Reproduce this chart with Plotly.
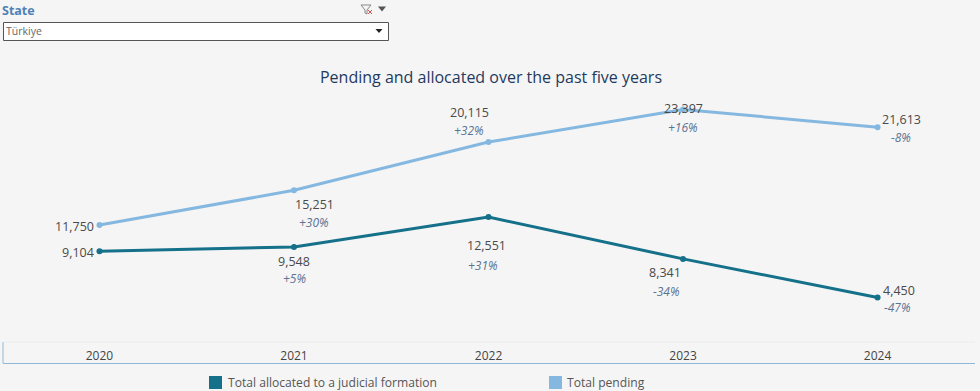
import plotly.graph_objects as go

years = [2020, 2021, 2022, 2023, 2024]
allocated = [9104, 9548, 12551, 8341, 4450]
pending = [11750, 15251, 20115, 23397, 21613]
allocated_change = ["", "+5%", "+31%", "-34%", "-47%"]
pending_change = ["", "+30%", "+32%", "+16%", "-8%"]

TEAL = "#15708a"
BLUE = "#85b8e0"
BG = "#f5f5f5"
FONT = "Open Sans"
TXT = "#4a4a4a"
PCT = "#5b7394"
AXIS = "#8fb8d8"

# label offsets from each point, in px (dx, dy up)
p_num = [(-3, -1), (20, -14), (-19, 30), (0, 1), (24, 8)]
p_pct = [None, (20, -32), (-20, 12), (0, -18), (23, -10)]
a_num = [(-3, -1), (0, -15), (-2, -28), (-18, -14), (21, 7)]
a_pct = [None, (0, -32), (-6, -48), (-17, -33), (20, -10)]

fig = go.Figure()
for name, vals, col in [("Total allocated to a judicial formation", allocated, TEAL),
                        ("Total pending", pending, BLUE)]:
    fig.add_trace(go.Scatter(x=years, y=vals, name=name, mode="lines+markers",
                             line=dict(color=col, width=3), marker=dict(color=col, size=6),
                             showlegend=False, cliponaxis=False))

for vals, changes, nums, pcts in [(pending, pending_change, p_num, p_pct),
                                  (allocated, allocated_change, a_num, a_pct)]:
    for i, yr in enumerate(years):
        dx, dy = nums[i]
        anchor = "right" if i == 0 else "center"
        fig.add_annotation(x=yr, y=vals[i], text=f"{vals[i]:,}", showarrow=False,
                           xshift=dx, yshift=dy, xanchor=anchor, yanchor="middle",
                           font=dict(family=FONT, size=12.5, color=TXT))
        if pcts[i]:
            fig.add_annotation(x=yr, y=vals[i], text=f"<i>{changes[i]}</i>", showarrow=False,
                               xshift=pcts[i][0], yshift=pcts[i][1], yanchor="middle",
                               font=dict(family=FONT, size=12, color=PCT))

W, H = 980, 391
ML, MR, MT, MB = 3, 5, 0, 28
PW, PH = W - ML - MR, H - MT - MB
def px(x): return (x - ML) / PW
def py(y): return 1 - (y - MT) / PH
def rect(x0, y0, x1, y1, **k):
    fig.add_shape(type="rect", xref="paper", yref="paper", x0=px(x0), x1=px(x1), y0=py(y0), y1=py(y1), **k)
def tri(cx, cy, w, h, col):
    pts = [(cx - w/2, cy - h/2), (cx + w/2, cy - h/2), (cx, cy + h/2)]
    path = "M " + " L ".join(f"{px(a):.5f},{py(b):.5f}" for a, b in pts) + " Z"
    fig.add_shape(type="path", xref="paper", yref="paper", path=path, fillcolor=col, line_width=0)
def label(x, y, text, size, col, anchor="left", family=FONT):
    fig.add_annotation(xref="paper", yref="paper", x=px(x), y=py(y), text=text, showarrow=False,
                       xanchor=anchor, yanchor="middle", borderpad=0,
                       font=dict(family=family, size=size, color=col))

# filter control
label(1, 11, "<b>State</b>", 12.5, "#4f81b5")
rect(3.5, 22.5, 388.5, 40.5, fillcolor="white", line=dict(color="#555555", width=1))
label(5, 31, "Türkiye", 10.5, "#666666")
tri(379, 31, 7, 4, "#222222")
tri(382, 9, 8, 5, "#555555")
funnel = [(361, 5), (371, 5), (367, 10), (367, 14), (365, 13), (365, 10)]
fig.add_shape(type="path", xref="paper", yref="paper",
              path="M " + " L ".join(f"{px(a):.5f},{py(b):.5f}" for a, b in funnel) + " Z",
              line=dict(color="#888888", width=1), fillcolor="rgba(0,0,0,0)")
for x0, x1 in [(368, 372), (372, 368)]:
    fig.add_shape(type="line", xref="paper", yref="paper", x0=px(x0), x1=px(x1), y0=py(10), y1=py(14),
                  line=dict(color="#d9534f", width=1))

# axis band
fig.add_shape(type="line", xref="paper", yref="paper", x0=px(3), x1=px(3), y0=py(342), y1=py(363),
              line=dict(color=AXIS, width=1))
fig.add_shape(type="line", xref="paper", yref="paper", x0=px(3), x1=px(975), y0=py(342), y1=py(342),
              line=dict(color="#ececec", width=1))

# legend
rect(209, 376, 222, 389, fillcolor=TEAL, line_width=0)
label(227, 382, "Total allocated to a judicial formation", 12.1, "#555555")
rect(549, 376, 562, 389, fillcolor=BLUE, line_width=0)
label(566, 382, "Total pending", 12.1, "#555555")

fig.update_layout(
    width=W, height=H, autosize=False,
    margin=dict(l=ML, r=MR, t=MT, b=MB),
    paper_bgcolor=BG, plot_bgcolor=BG,
    title=dict(text="Pending and allocated over the past five years",
               x=491 / W, xanchor="center", y=1 - 77 / H, yanchor="middle",
               font=dict(family="Open Sans", size=16, color="#1f3a5f")),
    xaxis=dict(range=[2019.504, 2024.501], tickvals=years, ticktext=[str(y) for y in years],
               ticklabelposition="inside", ticks="", showgrid=False, zeroline=False,
               showline=True, linecolor=AXIS, linewidth=1,
               tickfont=dict(family=FONT, size=12, color="#444444")),
    yaxis=dict(range=[-2150, 34432], visible=False, showgrid=False, zeroline=False),
    font=dict(family=FONT),
)
fig.write_html("out.html", config=dict(displayModeBar=False),
               post_script="document.body.style.margin='0';document.body.style.background='#f5f5f5';")
